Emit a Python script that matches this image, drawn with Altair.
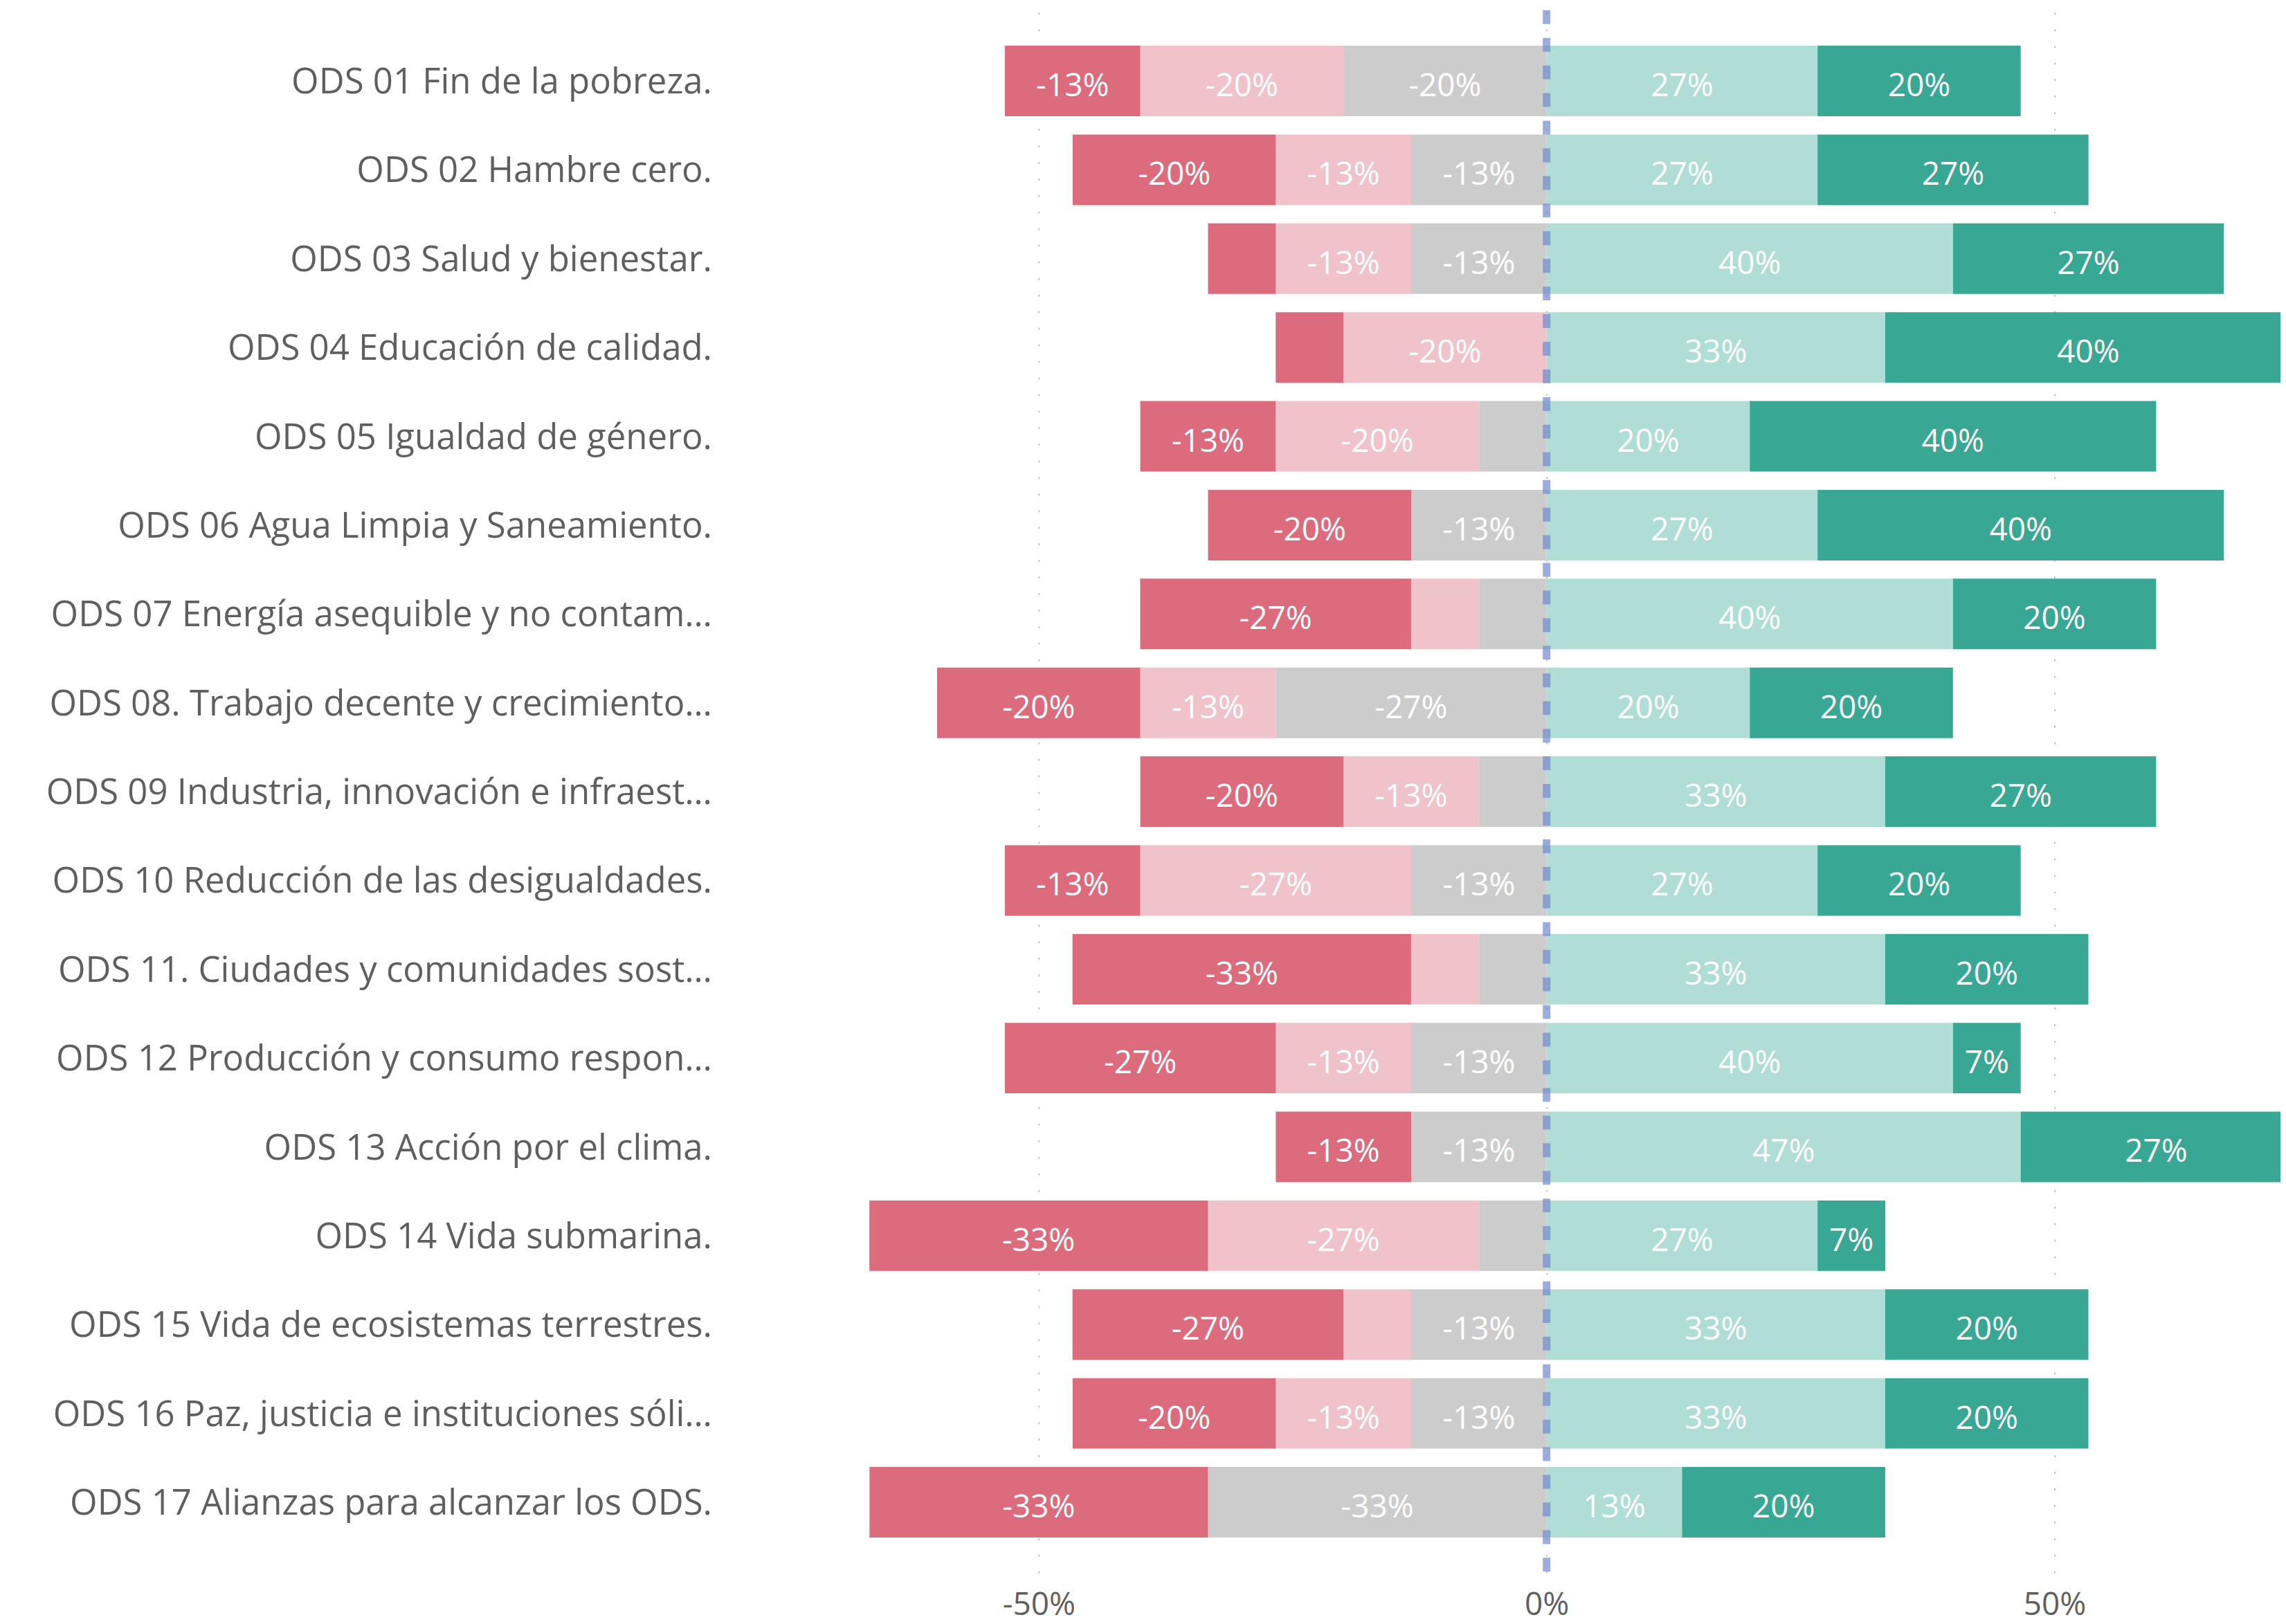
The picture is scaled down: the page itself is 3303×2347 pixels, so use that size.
import altair as alt
import pandas as pd

categories = [
    "ODS 01 Fin de la pobreza.",
    "ODS 02 Hambre cero.",
    "ODS 03 Salud y bienestar.",
    "ODS 04 Educación de calidad.",
    "ODS 05 Igualdad de género.",
    "ODS 06 Agua Limpia y Saneamiento.",
    "ODS 07 Energía asequible y no contam…",
    "ODS 08. Trabajo decente y crecimiento…",
    "ODS 09 Industria, innovación e infraest…",
    "ODS 10 Reducción de las desigualdades.",
    "ODS 11. Ciudades y comunidades sost…",
    "ODS 12 Producción y consumo respon…",
    "ODS 13 Acción por el clima.",
    "ODS 14 Vida submarina.",
    "ODS 15 Vida de ecosistemas terrestres.",
    "ODS 16 Paz, justicia e instituciones sóli…",
    "ODS 17 Alianzas para alcanzar los ODS.",
]

levels = ["Muy en desacuerdo", "En desacuerdo", "Neutral", "De acuerdo", "Muy de acuerdo"]
level_colors = ["#DC6B7E", "#F0C3CB", "#CCCCCC", "#B0DDD6", "#38A793"]

# percentages per level
muy_desacuerdo = [13.33, 20, 6.67, 6.67, 13.33, 20, 26.67, 20, 20, 13.33, 33.33, 26.67, 13.33, 33.33, 26.67, 20, 33.33]
desacuerdo = [20, 13.33, 13.33, 20, 20, 0, 6.67, 13.33, 13.33, 26.67, 6.67, 13.33, 0, 26.67, 6.67, 13.33, 0]
neutral = [20, 13.33, 13.33, 0, 6.67, 13.33, 6.67, 26.67, 6.67, 13.33, 6.67, 13.33, 13.33, 6.67, 13.33, 13.33, 33.33]
de_acuerdo = [26.67, 26.67, 40, 33.33, 20, 26.67, 40, 20, 33.33, 26.67, 33.33, 40, 46.67, 26.67, 33.33, 33.33, 13.33]
muy_de_acuerdo = [20, 26.67, 26.67, 40, 40, 40, 20, 20, 26.67, 20, 20, 6.67, 26.67, 6.67, 20, 20, 20]

rows = []
for i, cat in enumerate(categories):
    n, d, md = neutral[i], desacuerdo[i], muy_desacuerdo[i]
    a, ma = de_acuerdo[i], muy_de_acuerdo[i]
    segs = [
        (levels[2], -n, 0.0, n, -1),
        (levels[1], -(n + d), -n, d, -1),
        (levels[0], -(n + d + md), -(n + d), md, -1),
        (levels[3], 0.0, a, a, 1),
        (levels[4], a, a + ma, ma, 1),
    ]
    for lvl, x0, x1, v, side in segs:
        if v <= 0:
            continue
        show = side > 0 or v >= 10
        label = ("-" if side < 0 else "") + f"{round(v)}%" if show else ""
        rows.append({"cat": cat, "level": lvl, "x0": x0, "x1": x1,
                     "mid": (x0 + x1) / 2, "label": label})
df = pd.DataFrame(rows)

FONT = "Open Sans"
xscale = alt.Scale(domain=[-66.67, 72.24], nice=False, zero=False)
yscale = alt.Scale(paddingInner=0.206, paddingOuter=0.4, round=False)
yenc = alt.Y(
    "cat:N", sort=categories, scale=yscale,
    axis=alt.Axis(title=None, ticks=False, domain=False, labelPadding=228,
                  labelFontSize=51, labelColor="#5F5F5F", labelFont=FONT,
                  labelLimit=1200, labelAlign="right", labelOffset=3),
)

bars = alt.Chart(df).mark_bar(clip=True).encode(
    y=yenc,
    x=alt.X("x0:Q", scale=xscale,
            axis=alt.Axis(title=None, values=[-50, 0, 50], labelExpr="datum.value + '%'",
                          ticks=False, domain=False, labelFontSize=46, labelFont=FONT,
                          labelColor="#5F5F5F", labelPadding=24,
                          grid=True, gridDash=[3, 21], gridColor="#C4C4C4", gridWidth=2)),
    x2="x1:Q",
    color=alt.Color("level:N", scale=alt.Scale(domain=levels, range=level_colors), legend=None),
)

labels = alt.Chart(df).mark_text(color="white", font=FONT, fontSize=46,
                                 align="center", baseline="middle", dy=8).encode(
    y=alt.Y("cat:N", sort=categories),
    x=alt.X("mid:Q"),
    text="label:N",
)

zero = alt.Chart(pd.DataFrame({"z": [0]})).mark_rule(
    strokeDash=[20, 20], strokeWidth=11, color="#6F8AD0", opacity=0.7
).encode(x=alt.X("z:Q"))

chart = alt.layer(bars, labels, zero).properties(
    width=2042, height=2262,
    autosize=alt.AutoSizeParams(type="none"),
    padding={"left": 1250, "top": 5, "right": 0, "bottom": 64},
).configure_view(stroke=None)

chart.save("out.html", embed_options={"renderer": "svg", "actions": False})
